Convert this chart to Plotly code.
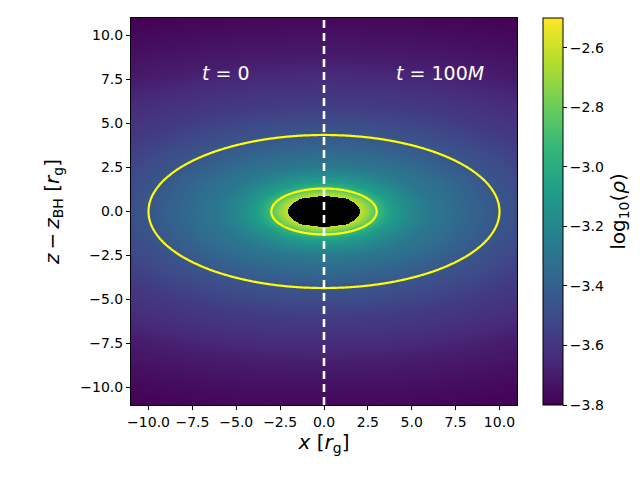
import numpy as np
import plotly.graph_objects as go

# Radial (elliptical-radius) density profile
s_samples = [0.0, 1.0, 2.0, 2.5, 3.0, 3.5, 4.0, 5.0, 6.0, 8.0, 10.0, 11.0, 14.0, 17.5, 20.0, 25.0, 30.0]
logrho_samples = [-2.3, -2.45, -2.6, -2.72, -2.88, -3.02, -3.1, -3.2, -3.28, -3.37, -3.45, -3.48, -3.57, -3.64, -3.7, -3.77, -3.83]
axis_ratio = 2.3          # x/z ratio of the iso-density ellipses
bh_radius = 2.05          # black hole excision radius (elliptical)
contour_levels = [-3.45, -2.88]
extent = 11.0
n_grid = 401

xticks = [-10.0, -7.5, -5.0, -2.5, 0.0, 2.5, 5.0, 7.5, 10.0]
yticks = [-10.0, -7.5, -5.0, -2.5, 0.0, 2.5, 5.0, 7.5, 10.0]
cticks = [-3.8, -3.6, -3.4, -3.2, -3.0, -2.8, -2.6]
cmin, cmax = -3.8, -2.5
labels = [("<i>t</i> = 0", -5.6, 7.85), ("<i>t</i> = 100<i>M</i>", 6.6, 7.85)]

# grid
half = extent / n_grid
xs = np.linspace(-extent + half, extent - half, n_grid)
zs = np.linspace(-extent + half, extent - half, n_grid)
X, Z = np.meshgrid(xs, zs)
S = np.sqrt(X**2 + (axis_ratio * Z) ** 2)
logrho = np.interp(S, s_samples, logrho_samples)
bh_mask = np.where(S < bh_radius, 1.0, np.nan)

FONT = "DejaVu Sans"
fig = go.Figure()
fig.add_trace(go.Heatmap(
    x=xs, y=zs, z=logrho, colorscale="Viridis", zmin=cmin, zmax=cmax,
    zsmooth=False,
    colorbar=dict(
        x=(543 - 131) / 386, xanchor="left", y=0.5, yanchor="middle",
        xpad=0, ypad=0,
        len=1.0, lenmode="fraction", thickness=20, thicknessmode="pixels",
        outlinewidth=1, outlinecolor="black",
        tickvals=cticks, tickformat=".1f", ticks="outside", ticklen=4,
        tickcolor="black", tickfont=dict(family=FONT, size=14, color="black"),
        title=dict(text="log<sub>10</sub>(<i>ρ</i>)", side="right",
                   font=dict(family=FONT, size=20, color="black")),
    ),
))
fig.add_trace(go.Heatmap(
    x=xs, y=zs, z=bh_mask, colorscale=[[0, "black"], [1, "black"]],
    showscale=False, zsmooth=False, hoverinfo="skip",
))
for lev in contour_levels:
    fig.add_trace(go.Contour(
        x=xs, y=zs, z=logrho, showscale=False, hoverinfo="skip",
        contours=dict(coloring="none", start=lev, end=lev, size=1),
        line=dict(color="#ffff00", width=2.2),
    ))

fig.add_vline(x=0, line=dict(color="white", width=2.6, dash="8px,5px"))

for txt, ax_, az_ in labels:
    fig.add_annotation(x=ax_, y=az_, text=txt, showarrow=False,
                       font=dict(family=FONT, size=19, color="white"))

axis_common = dict(
    showgrid=False, zeroline=False, ticks="outside", ticklen=4, tickcolor="black",
    showline=True, linecolor="black", linewidth=1, mirror=True,
    tickfont=dict(family=FONT, size=14, color="black"),
)
fig.update_xaxes(range=[-extent, extent], tickvals=xticks,
                 ticktext=[f"{v:.1f}".replace("-", "−") for v in xticks],
                 title=dict(text="<i>x</i> [<i>r</i><sub>g</sub>]",
                            font=dict(family=FONT, size=20, color="black"), standoff=6),
                 **axis_common)
fig.update_yaxes(range=[-extent, extent], tickvals=yticks,
                 ticktext=[f"{v:.1f}".replace("-", "−") for v in yticks],
                 title=dict(text="<i>z</i>\u2009−\u2009<i>z</i><sub>BH</sub> [<i>r</i><sub>g</sub>]",
                            font=dict(family=FONT, size=20, color="black"), standoff=15),
                 **axis_common)
fig.update_layout(
    width=640, height=480,
    margin=dict(l=131, r=123, t=18, b=75, autoexpand=False),
    paper_bgcolor="white", plot_bgcolor="white",
    showlegend=False,
)
fig.write_html("out.html", config={"displayModeBar": False},
               post_script="document.body.style.margin='0';")
